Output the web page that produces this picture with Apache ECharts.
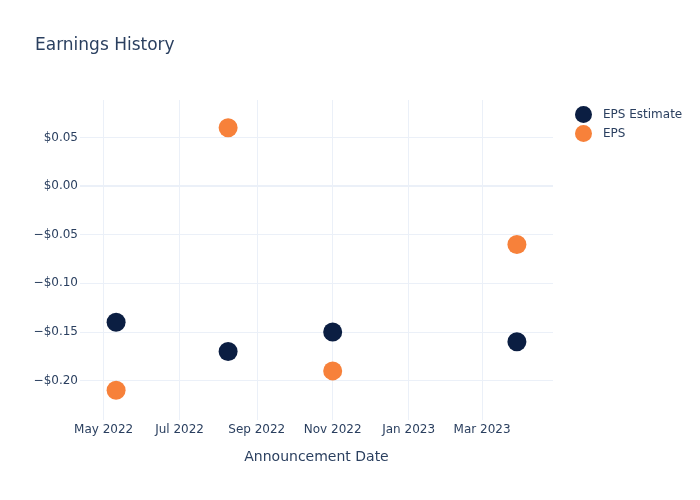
<!DOCTYPE html>
<html>
<head>
<meta charset="utf-8">
<script src="https://cdn.jsdelivr.net/npm/echarts@6/dist/echarts.min.js"></script>
<style>html,body{margin:0;padding:0;background:#fff}#c{width:700px;height:500px}</style>
</head>
<body>
<div id="c"></div>
<script>
const dates = ['2022-05-11', '2022-08-09', '2022-11-01', '2023-03-29'];
const epsEstimate = [-0.14, -0.17, -0.15, -0.16];
const eps = [-0.21, 0.06, -0.19, -0.06];
const xMin = '2022-04-12';
const xMax = '2023-04-27';
const yMin = -0.2405;
const yMax = 0.0885;

const months = ['Jan','Feb','Mar','Apr','May','Jun','Jul','Aug','Sep','Oct','Nov','Dec'];
const chart = echarts.init(document.getElementById('c'), null, {renderer: 'canvas'});
const fontFamily = '"DejaVu Sans", sans-serif';
const textColor = '#2a3f5f';
const grid = '#ebf0f8';

chart.setOption({
  animation: false,
  backgroundColor: '#fff',
  textStyle: {fontFamily: fontFamily},
  title: {
    text: 'Earnings History',
    left: 35, top: 37, padding: 0,
    textStyle: {fontSize: 17, fontWeight: 'normal', color: textColor, fontFamily: fontFamily}
  },
  legend: {
    orient: 'vertical',
    left: 570, top: 101,
    itemWidth: 17, itemHeight: 17, itemGap: 2,
    icon: 'circle',
    textStyle: {fontSize: 12, color: textColor, fontFamily: fontFamily, padding: [0, 0, 0, 6]},
    data: ['EPS Estimate', 'EPS']
  },
  grid: {left: 80, right: 147, top: 100, bottom: 80, containLabel: false},
  xAxis: {
    type: 'time',
    min: xMin, max: xMax,
    splitNumber: 5,
    name: 'Announcement Date',
    nameLocation: 'middle',
    nameGap: 30,
    nameTextStyle: {fontSize: 14, color: textColor, fontFamily: fontFamily},
    axisLine: {show: false},
    axisTick: {show: false},
    axisLabel: {
      color: textColor, fontSize: 12, margin: 4, fontFamily: fontFamily,
      showMinLabel: false, showMaxLabel: false, hideOverlap: false,
      formatter: function (v) { const d = new Date(v); return months[d.getMonth()] + ' ' + d.getFullYear(); },
      rich: {}
    },
    splitLine: {show: true, showMinLine: false, showMaxLine: false, lineStyle: {color: grid, width: 1}}
  },
  yAxis: {
    type: 'value',
    min: yMin, max: yMax,
    splitNumber: 5,
    axisLine: {show: false},
    axisTick: {show: false},
    axisLabel: {
      color: textColor, fontSize: 12, margin: 2, fontFamily: fontFamily,
      showMinLabel: false, showMaxLabel: false,
      formatter: function (v) {
        const a = Math.abs(v);
        if (a < 1e-9) return '$0.00';
        return (v < 0 ? '\u2212$' : '$') + a.toFixed(2);
      }
    },
    splitLine: {show: true, showMinLine: false, showMaxLine: false, lineStyle: {color: grid, width: 1}}
  },
  series: [
    {
      name: 'EPS Estimate', type: 'scatter', symbolSize: 19,
      itemStyle: {color: '#0b1e42', opacity: 1},
      data: dates.map((d, i) => [d, epsEstimate[i]]),
      z: 3
    },
    {
      name: 'EPS', type: 'scatter', symbolSize: 19,
      itemStyle: {color: '#f7813a', opacity: 1},
      data: dates.map((d, i) => [d, eps[i]]),
      z: 3
    },
    {
      type: 'line', silent: true, symbol: 'none', data: [],
      markLine: {
        silent: true, symbol: 'none', label: {show: false},
        lineStyle: {color: grid, width: 2, type: 'solid'},
        data: [{yAxis: 0}]
      }
    }
  ]
});
</script>
</body>
</html>
